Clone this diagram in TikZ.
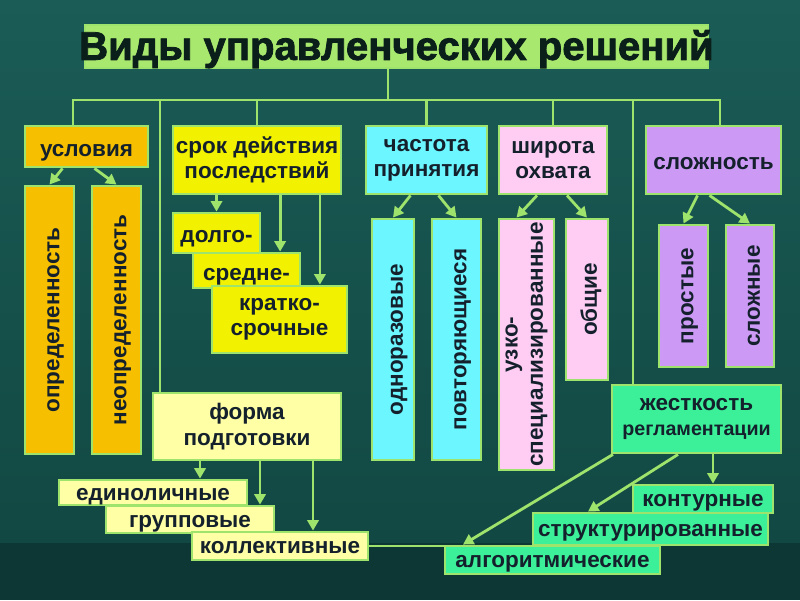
\documentclass[tikz,border=0pt]{standalone}
\usepackage{fontspec}
\setmainfont{Liberation Sans}
\usetikzlibrary{arrows.meta, positioning, calc}
\definecolor{bgtop}{HTML}{1B5C56}
\definecolor{bgmid}{HTML}{124843}
\definecolor{bgband}{HTML}{0C3734}
\definecolor{linegreen}{HTML}{9EE36C}
\definecolor{titlefill}{HTML}{A8E86E}
\definecolor{titletext}{HTML}{0A1F1A}
\definecolor{textdark}{HTML}{14202C}
\definecolor{amberfill}{HTML}{F6C000}
\definecolor{yellowfill}{HTML}{F2F200}
\definecolor{cyanfill}{HTML}{6CF6FF}
\definecolor{pinkfill}{HTML}{FFCDF3}
\definecolor{purplefill}{HTML}{CC9AF5}
\definecolor{paleyellow}{HTML}{FFFFA6}
\definecolor{springfill}{HTML}{3CF09A}
\tikzset{
  box/.style={
    rectangle,
    draw=linegreen,
    line width=2pt,
    align=center,
    inner sep=2pt,
    text=textdark,
    font=\fontsize{16}{18}\selectfont\bfseries,
    execute at begin node={\rule{0pt}{17pt}}
  },
  oneline/.style={
    box,
    text height=18pt,
    text depth=4pt
  },
  slim/.style={
    box,
    inner sep=0pt,
    text height=13pt,
    text depth=2pt
  },
  vbox/.style={
    oneline,
    rotate=90
  },
  arrow/.style={-{Triangle[length=2.6mm, width=2.8mm]}, line width=2pt, linegreen},
  link/.style={line width=2pt, linegreen}
}

\begin{document}
\begin{tikzpicture}[x=0.025cm, y=-0.025cm]
  % background
  \useasboundingbox (0,0) rectangle (800,600);
  \shade[top color=bgtop, bottom color=bgmid] (0,0) rectangle (800,543);
  \fill[bgband] (0,543) rectangle (800,600);

  % title
  \node[box, fill=titlefill, inner sep=0pt, minimum width=15.575cm, minimum height=1.075cm,
        text height=24pt, text depth=5pt,
        font=\fontsize{28.5}{30}\selectfont\bfseries\addfontfeature{FakeBold=2}, text=titletext] (title) at (396.5,46.5)
        {\makebox[15.3cm]{Виды управленческих решений}};

  % first row
  \node[oneline, fill=amberfill, minimum width=3.075cm, minimum height=1.025cm] (cond) at (86.5,146.5) {условия};
  \node[box, fill=yellowfill, minimum width=4.2cm, minimum height=1.7cm] (term) at (257,160) {срок действия\\последствий};
  \node[box, fill=cyanfill, minimum width=3.025cm, minimum height=1.7cm] (freq) at (426.5,160) {частота\\принятия};
  \node[box, fill=pinkfill, minimum width=2.7cm, minimum height=1.7cm] (scope) at (553,160) {широта\\охвата};
  \node[oneline, fill=purplefill, minimum width=3.375cm, minimum height=1.7cm] (cplx) at (713.5,160) {сложность};

  % vertical boxes
  \node[vbox, fill=amberfill, minimum width=6.7cm, minimum height=1.225cm] (det) at (49.5,320) {определенность};
  \node[vbox, fill=amberfill, minimum width=6.7cm, minimum height=1.225cm] (undet) at (116.5,320) {неопределенность};
  \node[vbox, fill=cyanfill, minimum width=6.025cm, minimum height=1.05cm] (once) at (393,339.5) {одноразовые};
  \node[vbox, fill=cyanfill, minimum width=6.025cm, minimum height=1.225cm] (rep) at (456.5,339.5) {повторяющиеся};
  \node[box, rotate=90, fill=pinkfill, minimum width=6.275cm, minimum height=1.375cm] (narrow) at (526.5,344.5) {узко-\\специализированные};
  \node[vbox, fill=pinkfill, minimum width=4.025cm, minimum height=1.05cm] (gen) at (587,299.5) {общие};
  \node[vbox, fill=purplefill, minimum width=3.55cm, minimum height=1.225cm] (simple) at (683.5,296) {простые};
  \node[vbox, fill=purplefill, minimum width=3.55cm, minimum height=1.2cm] (hard) at (750,296) {сложные};

  % term subtypes
  \node[oneline, fill=yellowfill, minimum width=2.175cm, minimum height=1cm] (long) at (216.5,233) {долго-};
  \node[oneline, fill=yellowfill, inner sep=0pt, minimum width=2.675cm, minimum height=0.875cm] (mid) at (246.5,270.5) {средне-};
  \node[box, fill=yellowfill, minimum width=3.375cm, minimum height=1.675cm] (short) at (279.5,319.5) {кратко-\\срочные};

  % form of preparation
  \node[box, fill=paleyellow, minimum width=4.7cm, minimum height=1.675cm] (form) at (247,426.5) {форма\\подготовки};
  \node[slim, fill=paleyellow, minimum width=4.7cm, minimum height=0.625cm] (single) at (153,492.5) {единоличные};
  \node[slim, fill=paleyellow, minimum width=4.2cm, minimum height=0.675cm] (group) at (190,519.5) {групповые};
  \node[slim, fill=paleyellow, minimum width=4.4cm, minimum height=0.7cm] (coll) at (280,546) {коллективные};

  % rigidity
  \node[box, fill=springfill, minimum width=4.225cm, minimum height=1.7cm] (rig) at (696.5,419)
        {жесткость\\{\fontsize{14}{16}\selectfont регламентации}};
  \node[slim, fill=springfill, minimum width=3.5cm, minimum height=0.7cm] (contour) at (703,499) {контурные};
  \node[slim, fill=springfill, minimum width=5.875cm, minimum height=0.8cm] (struct) at (650.5,529) {структурированные};
  \node[slim, fill=springfill, minimum width=5.375cm, minimum height=0.7cm] (algo) at (552.5,560) {алгоритмические};

  % tree lines
  \coordinate (bar) at (0,100);
  \coordinate (barL) at (73,100);
  \coordinate (barR) at (720,100);
  \coordinate (titletap) at (388,100);
  \draw[link] (titletap |- title.south) -- (titletap);
  \draw[link] (barL |- cond.north) -- (barL) -- (barR) -- (barR |- cplx.north);
  \draw[link] (term.north) -- (term.north |- bar);
  \draw[link] (freq.north) -- (freq.north |- bar);
  \draw[link] (scope.north) -- (scope.north |- bar);
  \coordinate (formtap) at (160,100);
  \draw[link] (formtap) -- (formtap |- form.north);
  \coordinate (rigtap) at (633,100);
  \draw[link] (rigtap) -- (rigtap |- rig.north);

  % arrows
  \draw[arrow] ([xshift=-0.6cm]cond.south) -- (det.east);
  \draw[arrow] ([xshift=0.2cm]cond.south) -- (undet.east);
  \draw[arrow] (long.north |- term.south) -- (long.north);
  \coordinate (midin) at ([xshift=0.84cm]mid.north);
  \draw[arrow] (midin |- term.south) -- (midin);
  \coordinate (shortin) at ([xshift=1.01cm]short.north);
  \draw[arrow] (shortin |- term.south) -- (shortin);
  \draw[arrow] ([xshift=-0.4cm]freq.south) -- (once.east);
  \draw[arrow] ([xshift=0.3cm]freq.south) -- (rep.east);
  \draw[arrow] ([xshift=-0.4cm]scope.south) -- ([xshift=-0.25cm]narrow.east);
  \draw[arrow] ([xshift=0.35cm]scope.south) -- (gen.east);
  \draw[arrow] ([xshift=-0.4cm]cplx.south) -- (simple.east);
  \draw[arrow] ([xshift=-0.1cm]cplx.south) -- (hard.east);
  \coordinate (singlein) at ([xshift=1.175cm]single.north);
  \draw[arrow] (singlein |- form.south) -- (singlein);
  \coordinate (groupin) at ([xshift=1.75cm]group.north);
  \draw[arrow] (groupin |- form.south) -- (groupin);
  \coordinate (collin) at ([xshift=0.825cm]coll.north);
  \draw[arrow] (collin |- form.south) -- (collin);
  \coordinate (contourin) at ([xshift=0.25cm]contour.north);
  \draw[arrow] (contourin |- rig.south) -- (contourin);
  \draw[arrow] ([xshift=-0.4625cm]rig.south) -- ([xshift=-1.5625cm]struct.north);
  \draw[arrow] ([xshift=-2.0875cm]rig.south) -- ([xshift=-2.2375cm]algo.north);
  \draw[link] (coll.east) -- (coll.east -| algo.west);
\end{tikzpicture}
\end{document}
